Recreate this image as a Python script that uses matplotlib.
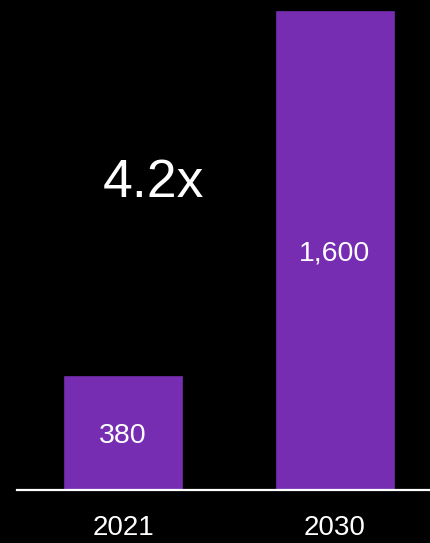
import matplotlib.pyplot as plt

years = ["2021", "2030"]
values = [380, 1600]
value_labels = ["380", "1,600"]
growth_label = "4.2x"

plt.rcParams['font.family'] = ['Liberation Sans', 'DejaVu Sans']

fig = plt.figure(figsize=(4.31, 5.43), dpi=100, facecolor="black")
ax = fig.add_axes([0.0406, 0.0985, 0.9594, 0.8807])
ax.set_facecolor("black")

x = list(range(len(years)))
ax.bar(x, values, width=0.553, color="#772DB1", edgecolor="#6A2A9E", linewidth=0.6)

for xi, v, lab in zip(x, values, value_labels):
    ax.text(xi, v / 2 - 12, lab, ha="center", va="center", color="white", fontsize=20.5)

ax.text(0.145, 1024, growth_label, ha="center", va="center", color="white", fontsize=38.5)

ax.set_xlim(-0.498, 1.453)
ax.set_ylim(0, 1600)
ax.set_xticks(x)
ax.set_xticklabels(years, color="white", fontsize=20)
ax.tick_params(axis="x", length=0, pad=18.5)
ax.set_yticks([])
for s in ["top", "left", "right"]:
    ax.spines[s].set_visible(False)
ax.spines["bottom"].set_color("white")
ax.spines["bottom"].set_linewidth(1.6)

plt.savefig("out.png", dpi=100, facecolor="black")
